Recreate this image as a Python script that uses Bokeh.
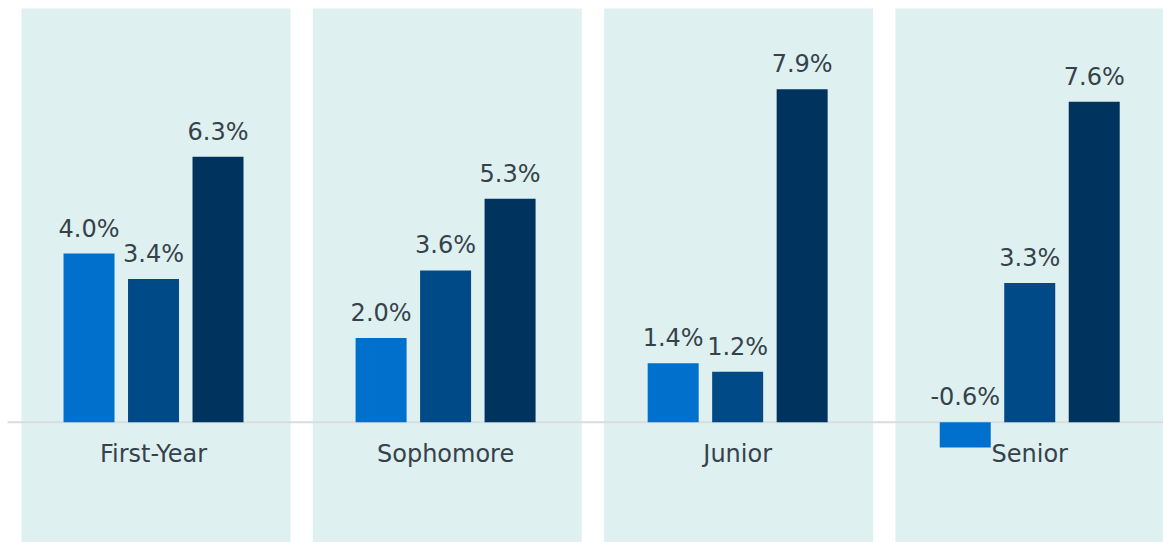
from bokeh.plotting import figure
from bokeh.models import ColumnDataSource, Range1d
from bokeh.core.properties import value
from bokeh.embed import file_html
from bokeh.resources import INLINE

categories = ["First-Year", "Sophomore", "Junior", "Senior"]
series_a = [4.0, 2.0, 1.4, -0.6]
series_b = [3.4, 3.6, 1.2, 3.3]
series_c = [6.3, 5.3, 7.9, 7.6]
colors = ["#0070CD", "#004A88", "#00335D"]

FONT = "DejaVu Sans"
TXT = "#36424B"

p = figure(width=1163, height=542, output_backend="svg", toolbar_location=None,
           x_range=Range1d(-0.0239, 3.958), y_range=Range1d(-2.854, 10.005),
           min_border=0, min_border_left=0, min_border_right=0,
           min_border_top=0, min_border_bottom=0)
p.axis.visible = False
p.grid.visible = False
p.outline_line_color = None
p.background_fill_color = "white"
p.border_fill_color = "white"

centers = [i + 0.5 for i in range(len(categories))]

# panels
pl = [0.04803 + 0.99737 * i for i in range(len(categories))]
p.quad(left=pl, right=[l + 0.921 for l in pl],
       top=9.815, bottom=-3, fill_color="#DFF0F0", line_color=None)

# baseline
p.line(x=[0, 4], y=[0, 0], line_color="#D9DDE1", line_width=2)

offsets = [-0.2208, 0.0, 0.2208]
bw = 0.1746
for vals, off, col in zip([series_a, series_b, series_c], offsets, colors):
    xs = [c + off for c in centers]
    src = ColumnDataSource(dict(x=xs, top=vals,
                                ly=[max(v, 0) for v in vals],
                                lab=[f"{v:.1f}%" for v in vals]))
    p.vbar(x="x", top="top", bottom=0, width=bw, source=src,
           fill_color=col, line_color=None)
    p.text(x="x", y="ly", text="lab", source=src, text_font=value(FONT),
           text_font_size=value("24px"), text_color=TXT, text_align="center",
           text_baseline="alphabetic", y_offset=-25)

csrc = ColumnDataSource(dict(x=centers, y=[0] * 4, t=categories))
p.text(x="x", y="y", text="t", source=csrc, text_font=value(FONT),
       text_font_size=value("24px"), text_color=TXT, text_align="center",
       text_baseline="alphabetic", y_offset=32)

open("out.html", "w").write(file_html(p, INLINE))
